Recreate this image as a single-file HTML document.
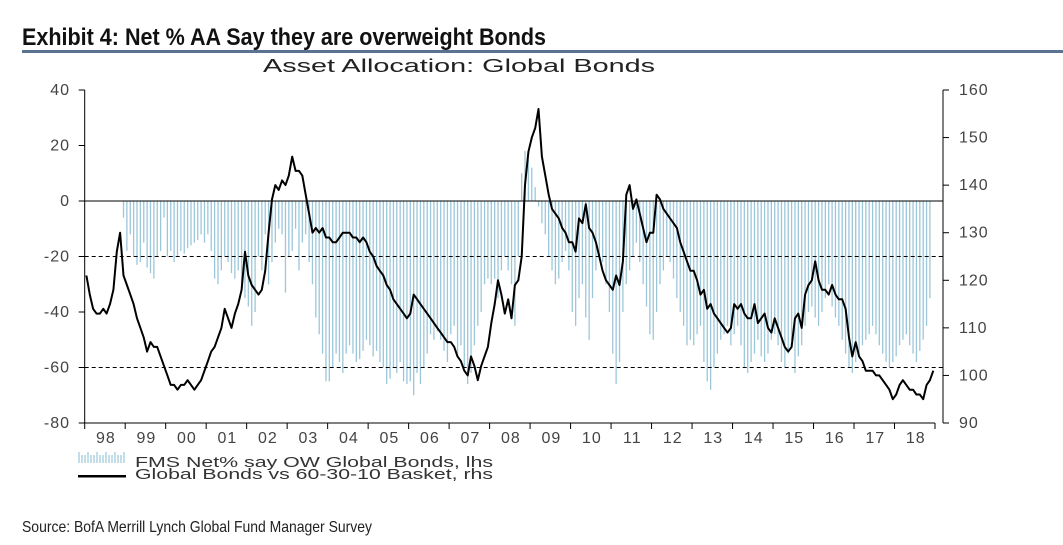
<!DOCTYPE html>
<html><head><meta charset="utf-8">
<style>
html,body{margin:0;padding:0;background:#fff;}
svg{display:block;}
text{font-family:"Liberation Sans",Arial,sans-serif;}
</style></head>
<body>
<svg id="chart" width="1063" height="545" viewBox="0 0 1063 545" xmlns="http://www.w3.org/2000/svg">
<text x="22" y="45" font-size="24" font-weight="bold" textLength="524" lengthAdjust="spacingAndGlyphs" style="font-family:'Liberation Sans Narrow','Liberation Sans',sans-serif" fill="#111">Exhibit 4: Net % AA Say they are overweight Bonds</text>
<rect x="22" y="50" width="1041" height="3" fill="#5b7393"/>
<text x="263" y="72" font-size="18" textLength="392" lengthAdjust="spacingAndGlyphs" fill="#222">Asset Allocation: Global Bonds</text>
<g id="bars"></g>
<g id="grid"></g>
<g id="axes"></g>
<path id="line" fill="none" stroke="#000" stroke-width="2" stroke-linejoin="round"/>
<g>
<g id="legicon"></g>
<text x="135" y="467" font-size="15" textLength="358" lengthAdjust="spacingAndGlyphs" fill="#333">FMS Net% say OW Global Bonds, lhs</text>
<rect x="78" y="475" width="48" height="2.5" fill="#000"/>
<text x="135" y="479" font-size="15" textLength="358" lengthAdjust="spacingAndGlyphs" fill="#333">Global Bonds vs 60-30-10 Basket, rhs</text>
</g>
<text x="22" y="532" font-size="16" textLength="350" lengthAdjust="spacingAndGlyphs" style="font-family:'Liberation Sans Narrow','Liberation Sans',sans-serif" fill="#222">Source:  BofA Merrill Lynch Global Fund Manager Survey</text>
</svg>
<script>
const years=['98','99','00','01','02','03','04','05','06','07','08','09','10','11','12','13','14','15','16','17','18'];
const leftTicks=[40,20,0,-20,-40,-60,-80];
const rightTicks=[160,150,140,130,120,110,100,90];
// FMS Net % OW bonds, monthly from Dec 1998
const barStart=11;
const fmsNet=[-6,
-18,-12,-20,-23,-22,-15,-24,-26,-28,-20,-18,-6,
-20,-18,-22,-20,-18,-19,-17,-16,-15,-14,-12,-15,
-12,-18,-28,-30,-25,-20,-22,-26,-28,-25,-30,-35,
-38,-45,-40,-20,-25,-12,-30,-22,-15,-10,-12,-33,
-20,-18,-10,-25,-15,-12,-22,-30,-42,-48,-55,-65,
-65,-60,-55,-58,-62,-55,-52,-55,-58,-57,-54,-50,
-52,-56,-54,-58,-60,-66,-64,-60,-62,-58,-65,-66,
-65,-70,-62,-66,-60,-55,-48,-50,-47,-50,-54,-58,
-48,-45,-55,-52,-60,-66,-62,-52,-45,-40,-30,-28,
-30,-28,-35,-25,-20,-25,-30,-45,-20,10,18,15,
12,5,-2,-8,-12,-20,-25,-30,-28,-22,-18,-25,
-40,-45,-35,-30,-42,-50,-35,-25,-20,-22,-30,-40,
-55,-66,-58,-40,-30,-25,-20,-15,-22,-30,-38,-48,
-50,-40,-30,-25,-20,-22,-28,-35,-40,-45,-52,-50,
-52,-48,-45,-58,-65,-68,-60,-55,-50,-48,-45,-52,
-48,-45,-52,-60,-62,-58,-55,-50,-56,-58,-55,-50,
-48,-52,-58,-60,-55,-50,-62,-56,-52,-45,-40,-38,
-42,-45,-40,-35,-30,-38,-42,-45,-50,-55,-60,-62,
-58,-55,-52,-50,-48,-45,-48,-52,-55,-58,-60,-58,
-56,-52,-50,-48,-52,-55,-58,-54,-50,-45,-35];
// Global bonds vs 60-30-10 basket, monthly from Jan 1998
const basket=[
121,117,114,113,113,114,113,115,118,126,130,121,
119,117,115,112,110,108,105,107,106,106,104,102,
100,98,98,97,98,98,99,98,97,98,99,101,
103,105,106,108,110,114,112,110,113,115,118,126,
121,119,118,117,118,122,130,137,140,139,141,140,
142,146,143,143,142,138,134,130,131,130,131,129,
129,128,128,129,130,130,130,129,129,128,129,128,
126,125,123,122,121,119,118,116,115,114,113,112,
113,117,116,115,114,113,112,111,110,109,108,107,
107,106,104,103,101,100,104,102,99,102,104,106,
111,115,120,117,113,116,112,119,120,125,140,147,
150,152,156,146,142,138,135,134,133,131,130,128,
128,126,133,132,136,131,130,128,125,122,120,119,
118,121,119,124,138,140,135,137,134,131,128,130,
130,138,137,135,134,133,132,131,128,126,124,122,
122,120,117,118,114,115,113,112,111,110,109,110,
115,114,115,113,112,112,115,111,112,113,110,109,
112,110,108,106,105,106,112,113,110,117,119,120,
124,120,118,118,117,119,117,116,116,114,108,104,
107,104,103,101,101,101,100,100,99,98,97,95,
96,98,99,98,97,97,96,96,95,98,99,101];
const NS='http://www.w3.org/2000/svg';
const X0=84.7,X1=935,Y0=90,Y1=423;
const yL=v=>Y0+(40-v)*(Y1-Y0)/120;
const yR=v=>Y0+(160-v)*(Y1-Y0)/70;
const yearW=(X1-X0)/years.length;
const xM=i=>X0+(i+0.5)*yearW/12;
function mk(tag,attrs,parent){const e=document.createElementNS(NS,tag);for(const k in attrs)e.setAttribute(k,attrs[k]);parent.appendChild(e);return e;}
const bars=document.getElementById('bars');
fmsNet.forEach((v,j)=>{const x=xM(barStart+j);
 const l=mk('line',{x1:x,x2:x,y1:yL(0),y2:yL(v),stroke:'#9cc7da','stroke-width':1.3},bars);
 
 });
const grid=document.getElementById('grid');
[0,-20,-60].forEach(v=>{const l=mk('line',{x1:X0,x2:943,y1:yL(v),y2:yL(v),stroke:'#000','stroke-width':1,'stroke-dasharray':v===0?'':'4,3'},grid);
 
 });
const ax=document.getElementById('axes');
mk('line',{x1:X0,x2:X0,y1:Y0,y2:Y1,stroke:'#000','stroke-width':1},ax);
mk('line',{x1:943,x2:943,y1:Y0,y2:Y1,stroke:'#000','stroke-width':1},ax);
mk('line',{x1:X0,x2:X1,y1:Y1,y2:Y1,stroke:'#000','stroke-width':1},ax);
leftTicks.forEach(v=>{mk('line',{x1:X0-6,x2:X0,y1:yL(v),y2:yL(v),stroke:'#000'},ax);
 const t=mk('text',{x:70,y:yL(v)+5,'font-size':16,'letter-spacing':1,'text-anchor':'end',fill:'#444'},ax);t.textContent=v;
 
 });
rightTicks.forEach(v=>{mk('line',{x1:943,x2:949,y1:yR(v),y2:yR(v),stroke:'#000'},ax);
 const t=mk('text',{x:959,y:yR(v)+5,'font-size':16,'letter-spacing':1,fill:'#444'},ax);t.textContent=v;
 
 });
years.forEach((y,i)=>{const x=X0+i*yearW;mk('line',{x1:x,x2:x,y1:Y1,y2:Y1+6,stroke:'#000'},ax);
 const t=mk('text',{x:x+yearW/2+1,y:443,'font-size':16,'letter-spacing':1,'text-anchor':'middle',fill:'#444'},ax);t.textContent=y;
 
 });
mk('line',{x1:X1,x2:X1,y1:Y1,y2:Y1+6,stroke:'#000'},ax);
document.getElementById('line').setAttribute('d',basket.map((v,i)=>(i?'L':'M')+xM(i).toFixed(1)+','+yR(v).toFixed(1)).join(''));
const li=document.getElementById('legicon');
for(let k=0;k<16;k++){mk('line',{x1:79+k*3,x2:79+k*3,y1:k%3?455:452,y2:463,stroke:'#9cc7da','stroke-width':1.2},li);}
</script>
</body></html>
